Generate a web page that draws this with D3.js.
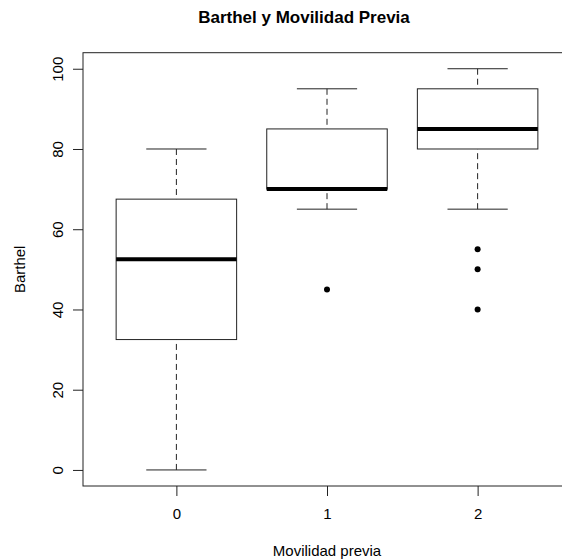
<!DOCTYPE html>
<html>
<head>
<meta charset="utf-8">
<script src="https://cdn.jsdelivr.net/npm/d3@7"></script>
<style>
    body { margin: 0; background: #fff; }
    svg { display: block; font-family: "Liberation Sans", Arial, sans-serif; }
</style>
</head>
<body>
<div id="viz"></div>
<script>
/**
 * boxplot stats, one entry per group
 */
var categories = ["0", "1", "2"];
var whiskerLow = [0, 65, 65];
var q1 = [32.5, 70, 80];
var medians = [52.5, 70, 85];
var q3 = [67.5, 85, 95];
var whiskerHigh = [80, 95, 100];
var outliers = [[], [45], [55, 50, 40]];
var yTicks = [0, 20, 40, 60, 80, 100];

var width = 562, height = 559;
var margin = { top: 52.7, left: 83, right: 571, bottom: 486 };

var svg = d3.select("#viz")
    .append("svg")
    .attr("width", width)
    .attr("height", height);

// R style: xlim 0.5..n+0.5 and ylim extended by 4%
var x = d3.scaleLinear()
    .domain([0.38, 3.62])
    .range([margin.left, margin.right]);

var y = d3.scaleLinear()
    .domain([-4, 104])
    .range([margin.bottom, margin.top]);

var boxHalf = 0.4, capHalf = 0.2;
var ink = "#222";

var groups = categories.map(function (c, i) {
    return { pos: i + 1, lo: whiskerLow[i], q1: q1[i], med: medians[i], q3: q3[i], hi: whiskerHigh[i], out: outliers[i] };
});

var g = svg.selectAll("g.box")
    .data(groups)
    .enter()
    .append("g")
    .attr("class", "box");

// dashed whiskers
g.append("line")
    .attr("x1", function (d) { return x(d.pos); })
    .attr("x2", function (d) { return x(d.pos); })
    .attr("y1", function (d) { return y(d.hi); })
    .attr("y2", function (d) { return y(d.q3); })
    .attr("stroke", ink).attr("stroke-dasharray", "6,4");
g.append("line")
    .attr("x1", function (d) { return x(d.pos); })
    .attr("x2", function (d) { return x(d.pos); })
    .attr("y1", function (d) { return y(d.lo); })
    .attr("y2", function (d) { return y(d.q1); })
    .attr("stroke", ink).attr("stroke-dasharray", "6,4");

// staples
["lo", "hi"].forEach(function (k) {
    g.append("line")
        .attr("x1", function (d) { return x(d.pos - capHalf); })
        .attr("x2", function (d) { return x(d.pos + capHalf); })
        .attr("y1", function (d) { return y(d[k]); })
        .attr("y2", function (d) { return y(d[k]); })
        .attr("stroke", ink);
});

// boxes
g.append("rect")
    .attr("x", function (d) { return x(d.pos - boxHalf); })
    .attr("width", function (d) { return x(d.pos + boxHalf) - x(d.pos - boxHalf); })
    .attr("y", function (d) { return y(d.q3); })
    .attr("height", function (d) { return y(d.q1) - y(d.q3); })
    .attr("fill", "none")
    .attr("stroke", ink);

// medians
g.append("line")
    .attr("x1", function (d) { return x(d.pos - boxHalf); })
    .attr("x2", function (d) { return x(d.pos + boxHalf); })
    .attr("y1", function (d) { return y(d.med); })
    .attr("y2", function (d) { return y(d.med); })
    .attr("stroke", "#000")
    .attr("stroke-width", 4);

// outliers
g.selectAll("circle")
    .data(function (d) { return d.out.map(function (v) { return { pos: d.pos, v: v }; }); })
    .enter()
    .append("circle")
    .attr("cx", function (d) { return x(d.pos); })
    .attr("cy", function (d) { return y(d.v); })
    .attr("r", 3)
    .attr("fill", "#000");

// frame
svg.append("rect")
    .attr("x", margin.left)
    .attr("y", margin.top)
    .attr("width", margin.right - margin.left)
    .attr("height", margin.bottom - margin.top)
    .attr("fill", "none")
    .attr("stroke", ink);

// axes
var yAxis = svg.append("g")
    .attr("transform", "translate(" + margin.left + ",0)")
    .call(d3.axisLeft(y).tickValues(yTicks).tickSize(10).tickPadding(10));
yAxis.select(".domain").remove();
yAxis.selectAll("line").attr("stroke", ink);
yAxis.selectAll("text")
    .attr("x", null).attr("dy", null)
    .attr("transform", "translate(-20,0) rotate(-90)")
    .attr("text-anchor", "middle")
    .attr("font-size", 15)
    .attr("font-family", null)
    .attr("fill", "#000");

var xAxis = svg.append("g")
    .attr("transform", "translate(0," + margin.bottom + ")")
    .call(d3.axisBottom(x).tickValues(groups.map(function (d) { return d.pos; }))
        .tickFormat(function (d, i) { return categories[i]; })
        .tickSize(10).tickPadding(12));
xAxis.select(".domain").remove();
xAxis.selectAll("line").attr("stroke", ink);
xAxis.selectAll("text")
    .attr("font-size", 15)
    .attr("font-family", null)
    .attr("fill", "#000");

// titles
svg.append("text")
    .attr("x", 304)
    .attr("y", 23)
    .attr("text-anchor", "middle")
    .attr("font-size", 17)
    .attr("font-weight", "bold")
    .text("Barthel y Movilidad Previa");

svg.append("text")
    .attr("x", (margin.left + margin.right) / 2)
    .attr("y", 556)
    .attr("text-anchor", "middle")
    .attr("font-size", 15)
    .text("Movilidad previa");

svg.append("text")
    .attr("transform", "translate(25," + ((margin.top + margin.bottom) / 2) + ") rotate(-90)")
    .attr("text-anchor", "middle")
    .attr("font-size", 15)
    .text("Barthel");
</script>
</body>
</html>
